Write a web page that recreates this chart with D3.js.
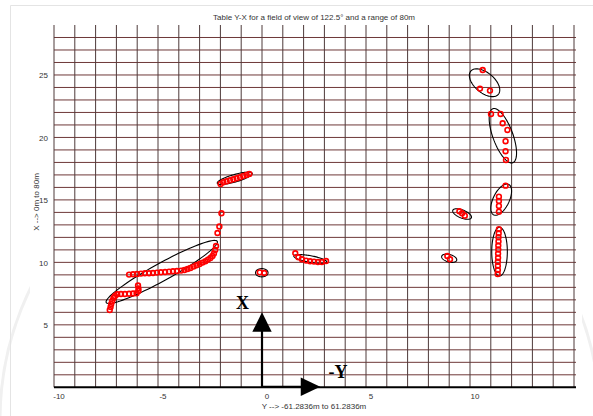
<!DOCTYPE html>
<html><head><meta charset="utf-8">
<script src="https://cdn.jsdelivr.net/npm/d3@7"></script>
<style>body{margin:0;background:#fff} svg{display:block}</style>
</head><body>
<svg id="chart" width="593" height="416"></svg>
<script>
// ---------- data ----------
const chartTitle = "Table Y-X for a field of view of 122.5\u00b0 and a range of 80m";
const xAxisTitle = "Y --> -61.2836m to 61.2836m";
const yAxisTitle = "X --> 0m to 80m";
const xDomain = [-10, 15];
const yDomain = [0, 29];
const xTicks = [-10, -5, 0, 5, 10];
const yTicks = [5, 10, 15, 20, 25];

const clusterLowerHook = [[-7.32,6.19],[-7.28,6.43],[-7.25,6.67],[-7.20,6.91],[-7.14,7.15],[-7.07,7.31],[-6.96,7.45],[-6.78,7.47],[-6.59,7.47],[-6.39,7.49],[-6.20,7.51],[-6.03,7.53],[-5.94,7.71],[-5.94,7.91],[-5.96,8.15]];
const clusterLongChain = [[-6.39,9.02],[-6.20,9.05],[-6.01,9.07],[-5.82,9.10],[-5.63,9.13],[-5.43,9.13],[-5.24,9.15],[-5.05,9.18],[-4.86,9.21],[-4.66,9.23],[-4.47,9.26],[-4.28,9.29],[-4.09,9.31],[-3.89,9.34],[-3.73,9.39],[-3.58,9.47],[-3.44,9.55],[-3.29,9.66],[-3.15,9.77],[-3.00,9.87],[-2.86,9.98],[-2.72,10.09],[-2.60,10.22],[-2.48,10.35],[-2.38,10.51],[-2.31,10.71],[-2.25,10.99],[-2.21,11.31],[-2.14,12.35],[-2.05,12.87],[-1.95,13.93]];
const clusterUpperLeft = [[-1.99,16.28],[-1.86,16.41],[-1.70,16.49],[-1.54,16.57],[-1.38,16.65],[-1.22,16.73],[-1.06,16.81],[-0.90,16.92],[-0.74,17.00],[-0.61,17.08]];
const clusterOrigin = [[-0.11,9.20],[0.11,9.15]];
const clusterMiddle = [[1.60,10.73],[1.75,10.41],[1.92,10.25],[2.12,10.14],[2.31,10.09],[2.50,10.06],[2.69,10.03],[2.88,10.03],[3.08,10.11]];
const clusterRightA = [[8.91,10.51],[9.04,10.25]];
const clusterRightB = [[9.49,14.09],[9.62,13.93],[9.75,13.74]];
const clusterRightC = [[11.71,16.14],[11.39,15.26],[11.39,14.92],[11.39,14.52],[11.39,14.06]];
const clusterRightD = [[11.39,12.66],[11.38,12.33],[11.37,12.01],[11.37,11.68],[11.36,11.35],[11.36,11.03],[11.35,10.70],[11.35,10.37],[11.34,10.05],[11.34,9.72],[11.34,9.39],[11.33,9.07]];
const clusterTopE = [[10.61,25.40],[10.48,23.91],[10.96,23.75]];
const clusterTopF = [[11.01,21.88],[11.47,21.88],[11.57,21.13],[11.80,20.60],[11.71,19.70],[11.71,18.90],[11.73,18.20]];

// ellipse: centre, semi-axis vector u, semi-axis vector v (data units)
const ellipseCentres = [[-4.82,9.23],[-1.31,16.73],[-0.01,9.17],[2.32,10.27],[9.00,10.33],[9.62,13.87],[11.50,15.02],[11.42,10.86],[10.70,24.38],[11.58,20.14]];
const ellipseU = [[2.67,2.45],[0.84,0.40],[0.30,0],[0.79,-0.24],[0.36,-0.16],[0.446,-0.30],[0.36,1.22],[0,1.95],[0.663,-0.928],[0.48,-2.16]];
const ellipseV = [[-0.20,0.62],[-0.05,0.29],[0,0.33],[-0.03,-0.26],[-0.046,-0.29],[-0.072,-0.296],[0.346,-0.28],[0.375,0],[-0.309,-0.613],[-0.45,-0.278]];

const arrowTipX = 6;    // data units along X (vertical)
const arrowTipY = 2.8;  // data units along -Y (horizontal)

// ---------- drawing ----------
const svg = d3.select("#chart");
const W = 593, H = 416;
const plot = {left: 54, right: 574, top: 25, bottom: 387.3};
const x = d3.scaleLinear().domain(xDomain).range([plot.left, plot.right]);
const y = d3.scaleLinear().domain(yDomain).range([plot.bottom, plot.top]);

svg.append("rect").attr("width", W).attr("height", H).attr("fill", "#fff");
// faint frame / watermark (only visible outside the plot)
svg.append("circle").attr("cx", 300).attr("cy", 420).attr("r", 300)
  .attr("fill", "none").attr("stroke", "#f0f0f0").attr("stroke-width", 3);
svg.append("line").attr("x1", 10.5).attr("x2", W).attr("y1", 5.5).attr("y2", 5.5).attr("stroke", "#e4e4e4");
svg.append("line").attr("x1", 10.5).attr("x2", 10.5).attr("y1", 5.5).attr("y2", H).attr("stroke", "#e4e4e4");
svg.append("rect").attr("x", 30).attr("y", 12).attr("width", 552).attr("height", 402).attr("fill", "#fff");

// grid
const g = svg.append("g");
g.selectAll("line.h").data(d3.range(1, 29)).join("line").attr("class", "h")
  .attr("x1", plot.left).attr("x2", plot.right + 2)
  .attr("y1", d => y(d)).attr("y2", d => y(d))
  .attr("stroke", "#6e3838").attr("stroke-width", 1);
g.selectAll("line.v").data(d3.range(xDomain[0], xDomain[1] + 1)).join("line").attr("class", "v")
  .attr("x1", d => x(d)).attr("x2", d => x(d))
  .attr("y1", plot.top).attr("y2", plot.bottom)
  .attr("stroke", "#4e3a3a").attr("stroke-width", 1);
// bottom axis line
g.append("line").attr("x1", plot.left).attr("x2", plot.right + 2)
  .attr("y1", y(0)).attr("y2", y(0)).attr("stroke", "#000").attr("stroke-width", 2);

// tick labels
const font = "Liberation Sans, Arial, sans-serif";
svg.selectAll("text.xt").data(xTicks).join("text").attr("class", "xt")
  .attr("x", d => x(d) + 5).attr("y", 398.5)
  .attr("text-anchor", "middle").attr("font-family", font).attr("font-size", 8).attr("fill", "#333")
  .text(d => d);
svg.selectAll("text.yt").data(yTicks).join("text").attr("class", "yt")
  .attr("x", 48).attr("y", d => y(d) + 3.5)
  .attr("text-anchor", "end").attr("font-family", font).attr("font-size", 8).attr("fill", "#333")
  .text(d => d);

svg.append("text").attr("x", 314).attr("y", 19.5).attr("text-anchor", "middle")
  .attr("font-family", font).attr("font-size", 8).attr("fill", "#333").text(chartTitle);
svg.append("text").attr("x", 314).attr("y", 408.5).attr("text-anchor", "middle")
  .attr("font-family", font).attr("font-size", 8).attr("fill", "#333").text(xAxisTitle);
svg.append("text").attr("transform", "translate(39,202) rotate(-90)").attr("text-anchor", "middle")
  .attr("font-family", font).attr("font-size", 8).attr("fill", "#333").text(yAxisTitle);

// ellipses
const ellipseLine = d3.line().curve(d3.curveLinearClosed);
const ellipseData = ellipseCentres.map((c, i) => ({c, u: ellipseU[i], v: ellipseV[i]}));
svg.selectAll("path.ell").data(ellipseData).join("path").attr("class", "ell")
  .attr("d", e => ellipseLine(d3.range(0, 96).map(k => {
    const t = k / 96 * 2 * Math.PI;
    return [x(e.c[0] + Math.cos(t) * e.u[0] + Math.sin(t) * e.v[0]),
            y(e.c[1] + Math.cos(t) * e.u[1] + Math.sin(t) * e.v[1])];
  })))
  .attr("fill", "none").attr("stroke", "#000").attr("stroke-width", 1.1);

// points
const allPoints = [].concat(clusterLowerHook, clusterLongChain, clusterUpperLeft, clusterOrigin,
  clusterMiddle, clusterRightA, clusterRightB, clusterRightC, clusterRightD, clusterTopE, clusterTopF);
svg.selectAll("circle.pt").data(allPoints).join("circle").attr("class", "pt")
  .attr("cx", d => x(d[0])).attr("cy", d => y(d[1])).attr("r", 2.4)
  .attr("fill", "#fff").attr("fill-opacity", 0).attr("stroke", "#ff0000").attr("stroke-width", 1.6);

// axis arrows
const ox = x(0), oy = y(0);
const tipV = y(arrowTipX), tipH = x(arrowTipY);
svg.append("line").attr("x1", ox).attr("x2", ox).attr("y1", oy).attr("y2", tipV + 15)
  .attr("stroke", "#000").attr("stroke-width", 2.2);
svg.append("path").attr("d", `M${ox},${tipV} L${ox - 9.7},${tipV + 19.5} L${ox + 9.7},${tipV + 19.5} Z`).attr("fill", "#000");
svg.append("line").attr("x1", ox).attr("x2", tipH - 15).attr("y1", oy - 0.5).attr("y2", oy - 0.5)
  .attr("stroke", "#000").attr("stroke-width", 2.2);
svg.append("path").attr("d", `M${tipH},${oy - 0.5} L${tipH - 19.5},${oy - 9.8} L${tipH - 19.5},${oy + 8.8} Z`).attr("fill", "#000");
svg.append("text").attr("x", 242.5).attr("y", 309).attr("text-anchor", "middle")
  .attr("font-family", "Liberation Serif, Times New Roman, serif").attr("font-weight", "bold")
  .attr("font-size", 18).attr("fill", "#000").text("X");
svg.append("text").attr("x", 338).attr("y", 377.5).attr("text-anchor", "middle")
  .attr("font-family", "Liberation Serif, Times New Roman, serif").attr("font-weight", "bold")
  .attr("font-size", 18).attr("fill", "#000").text("-Y");
</script>
</body></html>
